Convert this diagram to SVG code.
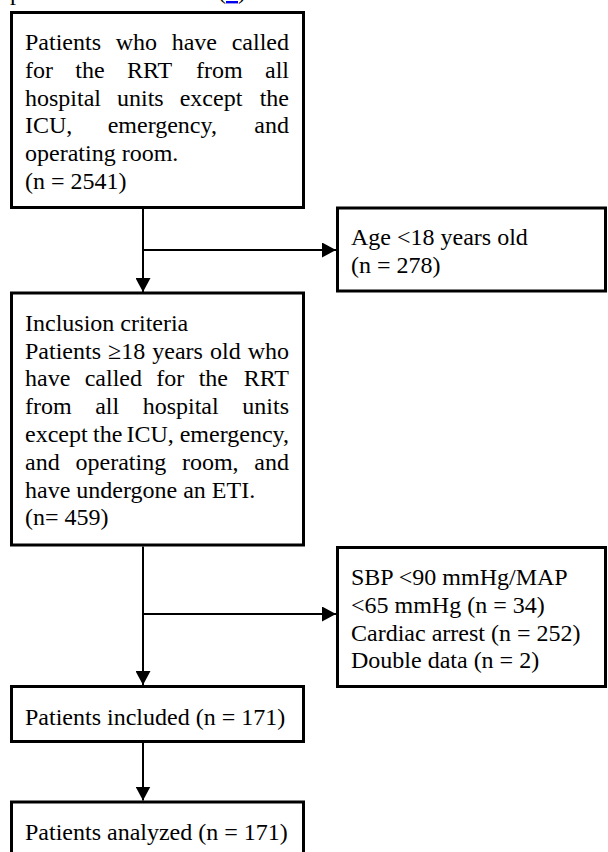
<svg xmlns="http://www.w3.org/2000/svg" width="608" height="852" viewBox="0 0 608 852">
<defs>
<style>
.box{fill:#fff;stroke:#000;stroke-width:3}
.t{font-family:"Liberation Serif","Times New Roman",serif;font-size:24px;fill:#000}
.e{text-anchor:end}
.c{fill:none;stroke:#000;stroke-width:2}
</style>
<marker id="ah" viewBox="0 0 14 15" refX="14" refY="7.5" markerWidth="14" markerHeight="15" markerUnits="userSpaceOnUse" orient="auto">
<path d="M0,0 L14,7.5 L0,15 Z" fill="#000"/>
</marker>
</defs>
<rect width="608" height="852" fill="#fff"/>
<g id="header">
<text class="t" x="10" y="0">p</text>
<text class="t" x="218" y="-1">(<tspan fill="#0000ee" text-decoration="underline">1</tspan>)</text>
</g>
<g id="connectors">
<path class="c" d="M143,209 V292" marker-end="url(#ah)"/>
<path class="c" d="M143,250 H336" marker-end="url(#ah)"/>
<path class="c" d="M143,546.5 V685" marker-end="url(#ah)"/>
<path class="c" d="M143,614 H336" marker-end="url(#ah)"/>
<path class="c" d="M143,743 V800.5" marker-end="url(#ah)"/>
</g>
<g id="n1">
<rect class="box" x="11.5" y="12.5" width="292" height="195"/>
<text class="t" y="50"><tspan x="25">Patients</tspan><tspan x="115.7">who</tspan><tspan x="171.7">have</tspan></text>
<text class="t e" x="289" y="50">called</text>
<text class="t" y="77.8"><tspan x="25">for</tspan><tspan x="75.3">the</tspan><tspan x="126.9">RRT</tspan><tspan x="195.9">from</tspan></text>
<text class="t e" x="289" y="77.8">all</text>
<text class="t" y="105.6"><tspan x="25">hospital</tspan><tspan x="117">units</tspan><tspan x="179.7">except</tspan></text>
<text class="t e" x="289" y="105.6">the</text>
<text class="t" y="133.4"><tspan x="25">ICU,</tspan><tspan x="107.7">emergency,</tspan></text>
<text class="t e" x="289" y="133.4">and</text>
<text class="t" x="25" y="161.2">operating room.</text>
<text class="t" x="25" y="189">(n = 2541)</text>
</g>
<g id="n2">
<rect class="box" x="337.5" y="208" width="268" height="83"/>
<text class="t" x="351" y="245">Age &lt;18 years old</text>
<text class="t" x="351" y="272.8">(n = 278)</text>
</g>
<g id="n3">
<rect class="box" x="11.5" y="293" width="292" height="252"/>
<text class="t" x="25" y="330.7">Inclusion criteria</text>
<text class="t" y="358.5"><tspan x="25">Patients</tspan><tspan x="108">≥18</tspan><tspan x="152.3">years</tspan><tspan x="210">old</tspan></text>
<text class="t e" x="289" y="358.5">who</text>
<text class="t" y="386.3"><tspan x="25">have</tspan><tspan x="84.7">called</tspan><tspan x="156.3">for</tspan><tspan x="198.7">the</tspan></text>
<text class="t e" x="289" y="386.3">RRT</text>
<text class="t" y="414.1"><tspan x="25">from</tspan><tspan x="95.2">all</tspan><tspan x="142.7">hospital</tspan></text>
<text class="t e" x="289" y="414.1">units</text>
<text class="t" y="441.9"><tspan x="25">except</tspan><tspan x="93">the</tspan><tspan x="126.4">ICU,</tspan></text>
<text class="t e" x="289" y="441.9">emergency,</text>
<text class="t" y="469.7"><tspan x="25">and</tspan><tspan x="75.5">operating</tspan><tspan x="181.9">room,</tspan></text>
<text class="t e" x="289" y="469.7">and</text>
<text class="t" x="25" y="497.5">have undergone an ETI.</text>
<text class="t" x="25" y="525.3">(n= 459)</text>
</g>
<g id="n4">
<rect class="box" x="337.5" y="547.5" width="268" height="139"/>
<text class="t" x="351" y="585">SBP &lt;90 mmHg/MAP</text>
<text class="t" x="351" y="612.8">&lt;65 mmHg (n = 34)</text>
<text class="t" x="351" y="640.6">Cardiac arrest (n = 252)</text>
<text class="t" x="351" y="668.4">Double data (n = 2)</text>
</g>
<g id="n5">
<rect class="box" x="11.5" y="686.5" width="292" height="55"/>
<text class="t" x="25" y="724.5">Patients included (n = 171)</text>
</g>
<g id="n6">
<rect class="box" x="11.5" y="802" width="292" height="70"/>
<text class="t" x="25" y="839.5">Patients analyzed (n = 171)</text>
</g>
</svg>
